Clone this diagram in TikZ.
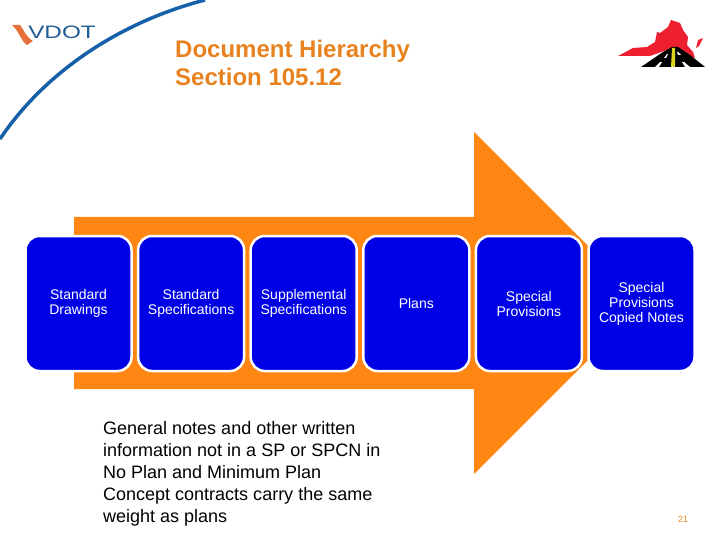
\documentclass[tikz,border=0pt]{standalone}
\usepackage{fontspec}
\setmainfont{Liberation Sans}
\usetikzlibrary{positioning}
\definecolor{arroworange}{HTML}{FF8612}
\definecolor{titleorange}{HTML}{E8821E}
\definecolor{boxblue}{HTML}{0000E6}
\definecolor{arcblue}{HTML}{1560A8}
\definecolor{logoblue}{HTML}{1F5C94}
\definecolor{logoorange}{HTML}{E8703A}
\definecolor{mapred}{HTML}{EE2030}
\begin{document}
\begin{tikzpicture}[
    x=1pt, y=-1pt,
    node distance=6.6pt,
    stage/.style={rectangle, rounded corners=14pt, minimum width=106pt, minimum height=135pt, inner sep=0pt, outer sep=0pt, align=center, draw=white, line width=2.5pt, fill=boxblue, text=white, font=\fontsize{14}{15}\selectfont},
    heading/.style={anchor=north west, inner sep=0pt, align=left, text=titleorange, font=\fontsize{24}{28}\selectfont\bfseries},
    remark/.style={anchor=north west, inner sep=0pt, align=left, font=\fontsize{18}{22}\selectfont}
]
\useasboundingbox (0,0) rectangle (720,540);

% Background
\draw [arcblue, line width=3.5pt] (0,139) .. controls (45,72) and (120,22) .. (205,0);

% Logo
\fill [logoorange] (12,25) -- (20,25) .. controls (24,30) and (26,37) .. (33,41) -- (27,45) .. controls (21,41) and (19,31) .. (12,25) -- cycle;
\node (logo) [anchor=west, inner sep=0pt, text=logoblue, xscale=1.35, font=\fontsize{18}{18}\selectfont] at (28,32) {VDOT};

% Map
\fill [mapred] (618,56) -- (633,48) -- (647,47) -- (655,42) -- (657,32) -- (660,33) -- (668,27) -- (671,20) -- (680,23) -- (683,30) -- (688,37) -- (687,45) -- (693,52) -- (695,58) -- (687,55) -- (675,47) -- (650,56) -- cycle;
\fill [mapred] (696,48) -- (698,40) -- (703,38) -- (699,46) -- cycle;
\fill [black] (641,67) -- (663,52) -- (672,47) -- (678,47) -- (690,55) -- (705,67) -- cycle;
\fill [yellow!85!black] (672,48) -- (675,48) -- (675,67) -- (671,67) -- cycle;
\fill [white] (655,67) -- (660,62) -- (662,62) -- (659,67) -- cycle;
\fill [white] (664,58) -- (667,54) -- (668,54) -- (666,58) -- cycle;
\fill [white] (685,67) -- (682,62) -- (684,62) -- (690,67) -- cycle;
\fill [white] (678,55) -- (677,52) -- (678,52) -- (681,55) -- cycle;

% Big arrow
\fill [arroworange] (74,217) -- (474,217) -- (474,132) -- (645,303) -- (474,474) -- (474,389) -- (74,389) -- cycle;

% Nodes
\node (drawings) [stage] at (78.5,303.5) {Standard\\Drawings};
\node (standard) [stage, right=of drawings] {Standard\\Specifications};
\node (supplemental) [stage, right=of standard] {Supplemental\\Specifications};
\node (plans) [stage, right=of supplemental] {Plans};
\node (provisions) [stage, right=of plans] {Special\\Provisions};
\node (copied) [stage, right=of provisions] {Special\\Provisions\\Copied Notes};

% Text
\node (title) [heading] at (175,40) {Document Hierarchy\\Section 105.12};
\node (note) [remark] at (103,421) {General notes and other written\\information not in a SP or SPCN in\\No Plan and Minimum Plan\\Concept contracts carry the same\\weight as plans};
\node (page) [text=titleorange, inner sep=0pt, font=\fontsize{9}{9}\selectfont] at (683,519) {21};

\end{tikzpicture}
\end{document}
